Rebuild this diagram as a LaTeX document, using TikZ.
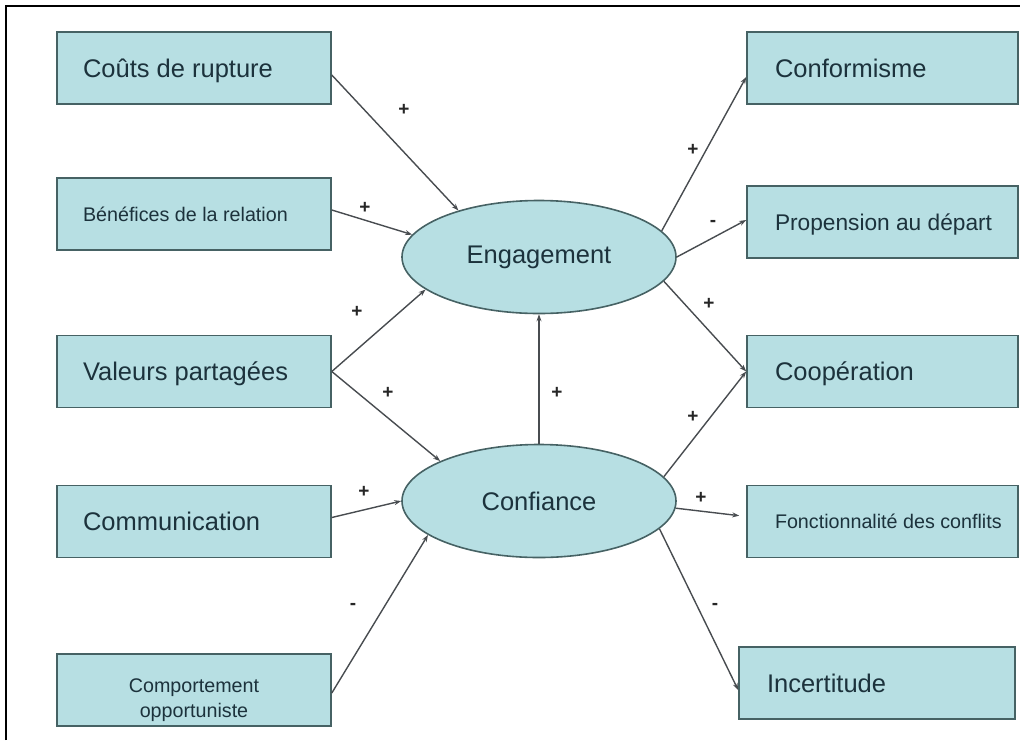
\documentclass[tikz,border=0pt]{standalone}
\usepackage{fontspec}
\setmainfont{Liberation Sans}
\usetikzlibrary{arrows.meta,shapes.geometric}
\definecolor{boxfill}{RGB}{183,223,227}
\definecolor{boxline}{RGB}{70,98,100}
\definecolor{txtcol}{RGB}{28,50,60}
\definecolor{arrcol}{RGB}{72,76,80}
\newcommand\fbig{\fontsize{25.5}{30}\selectfont}
\newcommand\fmed{\fontsize{22.7}{27}\selectfont}
\newcommand\fsml{\fontsize{19.7}{25}\selectfont}
\newcommand\mylt[2]{\makebox[#1][l]{#2}}
\tikzset{
  lbox/.style={rectangle, draw=boxline, fill=boxfill, line width=1.6pt, minimum height=72pt, inner xsep=26pt, inner ysep=0pt, text=txtcol, text depth=0pt},
  rbox/.style={lbox, inner xsep=28pt},
  bigt/.style={font=\fbig, text height=18pt},
  medt/.style={font=\fmed, text height=16pt},
  smlt/.style={font=\fsml, text height=14pt},
  oval/.style={ellipse, draw=boxline, fill=boxfill, line width=1.6pt, minimum width=274pt, minimum height=113pt, inner sep=0pt, text=txtcol, font=\fbig},
  arr/.style={draw=arrcol, line width=1.4pt, -{Stealth[length=7pt,width=5pt]}},
  lbl/.style={inner sep=0pt, text=black!85, font=\fontsize{19}{20}\selectfont\bfseries},
  frame/.style={line width=2.2pt, black}
}
\begin{document}
\begin{tikzpicture}[x=1pt,y=-1pt]
\useasboundingbox (0,0) rectangle (1020,740);
\coordinate (fa) at (6,740);
\coordinate (fb) at (6,6);
\coordinate (fc) at (1020,6);
\draw[frame] (fa) -- (fb) -- (fc);

% left boxes
\node[lbox, bigt] (couts) at (194,68) {\mylt{222pt}{Coûts de rupture}};
\node[lbox, smlt] (benef) at (194,214) {\mylt{222pt}{Bénéfices de la relation}};
\node[lbox, bigt] (val) at (194,371.5) {\mylt{222pt}{Valeurs partagées}};
\node[lbox, bigt] (comm) at (194,521.5) {\mylt{222pt}{Communication}};
\node[lbox, font=\fsml, text depth=, minimum width=274pt, inner xsep=0pt] (comp) at (194,690)
  {\raisebox{-27pt}[0pt][0pt]{\parbox[b]{220pt}{\centering Comportement\\opportuniste}}};

% ellipses
\node[oval] (eng) at (539,257) {Engagement};
\node[oval] (conf) at (539,501) {Confiance};

% right boxes
\node[rbox, bigt] (conform) at (882.5,68) {\mylt{215pt}{Conformisme}};
\node[rbox, medt] (prop) at (882.5,222) {\mylt{215pt}{Propension au départ}};
\node[rbox, bigt] (coop) at (882.5,371.5) {\mylt{215pt}{Coopération}};
\node[rbox, smlt] (fonct) at (882.5,521.5) {\mylt{215pt}{Fonctionnalité des conflits}};
\node[rbox, bigt] (inc) at (877,683) {\mylt{220pt}{Incertitude}};

% connectors
\draw[arr] ([yshift=-7pt]couts.east) -- (eng.150);
\draw[arr] ([yshift=4pt]benef.east) -- (eng.170);
\draw[arr] (val.east) -- (eng.196);
\draw[arr] (val.east) -- (conf.158);
\draw[arr] ([yshift=4pt]comm.east) -- (conf.west);
\draw[arr] ([yshift=-3pt]comp.east) -- (conf.197);
\draw[arr] (conf.north) -- (eng.south);
\draw[arr] (eng.12) -- ([yshift=-9pt]conform.west);
\draw[arr] (eng.east) -- ([yshift=2pt]prop.west);
\draw[arr] (eng.349) -- (coop.west);
\draw[arr] (conf.11) -- (coop.west);
\draw[arr, shorten >=7pt] (conf.357) -- ([yshift=5pt]fonct.west);
\draw[arr] (conf.347) -- ([yshift=-7pt]inc.west);

% signs
\node[lbl] (s1) at (404,110) {+};
\node[lbl] (s2) at (365,208) {+};
\node[lbl] (s3) at (357,312) {+};
\node[lbl] (s4) at (388,393) {+};
\node[lbl] (s5) at (364,492) {+};
\node[lbl] (s6) at (353,606) {-};
\node[lbl] (s7) at (557,393) {+};
\node[lbl] (s8) at (693,150) {+};
\node[lbl] (s9) at (713,223) {-};
\node[lbl] (s10) at (709,304) {+};
\node[lbl] (s11) at (693,417) {+};
\node[lbl] (s12) at (701,498) {+};
\node[lbl] (s13) at (715,606) {-};
\end{tikzpicture}
\end{document}
